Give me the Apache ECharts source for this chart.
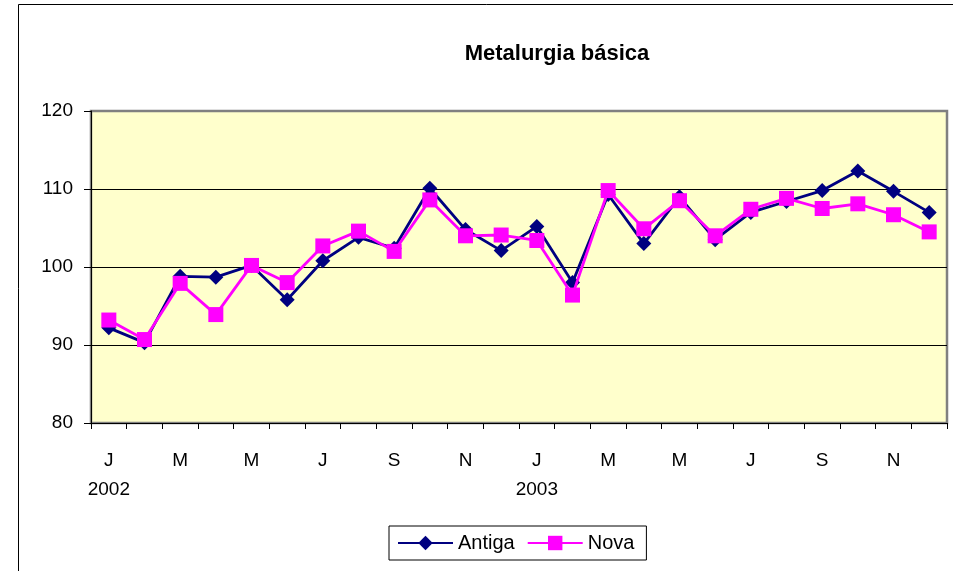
<!DOCTYPE html>
<html><head><meta charset="utf-8">
<script src="https://cdn.jsdelivr.net/npm/echarts@6/dist/echarts.min.js"></script>
<style>html,body{margin:0;padding:0;background:#fff}#c{width:953px;height:571px}</style>
</head><body><div id="c"></div>
<script>
const months = ["J","F","M","A","M","J","J","A","S","O","N","D","J","F","M","A","M","J","J","A","S","O","N","D"];
const years = ["2002","","","","","","","","","","","","2003","","","","","","","","","","",""];
const antiga = [92.2,90.3,98.8,98.7,100.2,95.8,100.8,103.8,102.4,110.1,104.8,102.1,105.2,98.0,109.3,103.0,109.0,103.5,107.0,108.4,109.8,112.3,109.7,107.0];
const nova = [93.2,90.7,97.9,93.9,100.2,98.0,102.7,104.6,102.0,108.6,104.0,104.1,103.4,96.4,109.8,104.9,108.5,104.0,107.4,108.8,107.5,108.1,106.7,104.5];
const yTicks = [80,90,100,110,120];

const font = 'Liberation Sans, Arial, sans-serif';
const chart = echarts.init(document.getElementById('c'), null, {renderer:'canvas'});
chart.setOption({
  animation:false,
  backgroundColor:'#ffffff',
  graphic:[{type:'rect',shape:{x:18.5,y:4.5,width:940,height:600},style:{fill:'none',stroke:'#000',lineWidth:1},z:-10}],
  title:{text:'Metalurgia básica',left:552,top:38,textAlign:'center',textStyle:{fontFamily:font,fontSize:22,fontWeight:'bold',color:'#000'}},
  grid:{left:91,right:6,top:111,bottom:148,show:true,backgroundColor:'#FFFFCC',borderColor:'#808080',borderWidth:2.5},
  legend:{left:389,top:526,itemWidth:55,itemHeight:18,itemGap:12,padding:[7,12,7,8],borderColor:'#000',borderWidth:1,
    textStyle:{fontFamily:font,fontSize:20,color:'#000'},
    data:['Antiga','Nova']},
  xAxis:[{type:'category',data:months,boundaryGap:true,
    axisLine:{lineStyle:{color:'#000',width:1}},
    axisTick:{show:true,interval:0,length:6,lineStyle:{color:'#000'}},
    axisLabel:{interval:1,margin:28,fontFamily:font,fontSize:19,color:'#000'},
    splitLine:{show:false}},
   {type:'category',data:years,position:'bottom',offset:29,boundaryGap:true,
    axisLine:{show:false},axisTick:{show:false},
    axisLabel:{interval:0,margin:28,fontFamily:font,fontSize:19,color:'#000'}}],
  yAxis:{type:'value',min:80,max:120,interval:10,
    axisLine:{show:true,lineStyle:{color:'#000',width:1}},
    axisTick:{show:true,length:7,lineStyle:{color:'#000'}},
    axisLabel:{margin:18,fontFamily:font,fontSize:19,color:'#000',formatter:v=>yTicks.includes(v)?String(v):''},
    splitLine:{show:true,lineStyle:{color:['#000','#000','#000','#000','rgba(0,0,0,0)'],width:1}}},
  series:[
    {name:'Antiga',type:'line',data:antiga,symbol:'diamond',symbolSize:15,
      lineStyle:{color:'#000080',width:2.8},itemStyle:{color:'#000080'},z:2},
    {name:'Nova',type:'line',data:nova,symbol:'rect',symbolSize:15,
      lineStyle:{color:'#FF00FF',width:2.8},itemStyle:{color:'#FF00FF'},z:3}
  ]
});
</script></body></html>
